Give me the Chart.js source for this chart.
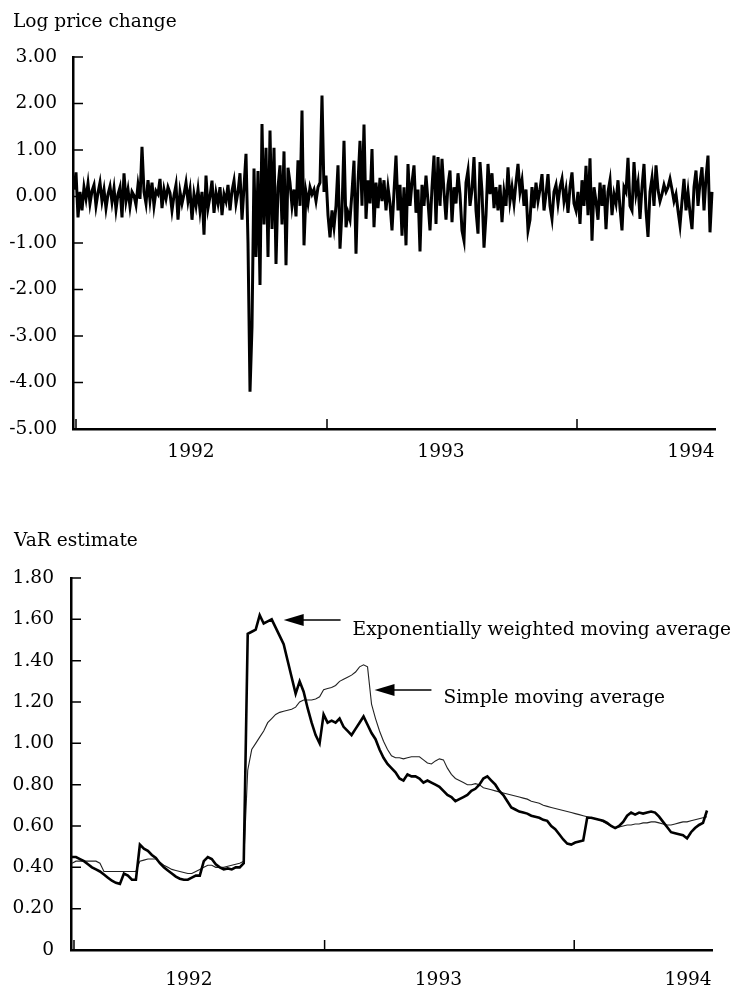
<!DOCTYPE html>
<html>
<head>
<meta charset="utf-8">
<script src="https://cdn.jsdelivr.net/npm/chart.js@4.4.1/dist/chart.umd.min.js"></script>
<style>
  body { margin: 0; background: #fff; }
  #wrap { position: relative; width: 740px; height: 994px; }
  canvas { position: absolute; left: 0; }
</style>
</head>
<body>
<div id="wrap">
  <canvas id="priceChart" width="740" height="470" style="top:0"></canvas>
  <canvas id="varChart" width="740" height="484" style="top:510px"></canvas>
</div>
<script>
// trading days on the x axis (day 0 = left end of the axis)
var yearLabels = ["1992", "1993", "1994"];
var yearLabelDays = [118, 368, 618];
var yearTickDays = [3, 254, 504];

// daily log price change, one value every 2nd trading day
var priceChange = [
  0.15, 0.52, -0.45, 0.10, -0.30, 0.20, -0.05, 0.28, -0.15, 0.12, 0.25, -0.20, 0.08, 0.30, -0.10, 0.15, -0.25, 0.05, 0.22, -0.12,
  0.18, -0.28, 0.05, 0.20, -0.45, 0.50, -0.10, 0.15, -0.22, 0.10, 0.02, -0.18, 0.25, -0.05, 1.07, 0.10, -0.15, 0.35, -0.08, 0.30,
  -0.20, 0.12, 0.05, 0.38, -0.25, 0.15, -0.05, 0.20, 0.08, -0.30, 0.02, 0.25, -0.50, 0.10, -0.15, 0.05, 0.30, -0.10, 0.15, -0.50,
  0.05, -0.20, 0.15, -0.30, 0.10, -0.82, 0.45, -0.25, 0.00, 0.34, -0.35, 0.08, -0.15, 0.20, -0.40, 0.05, -0.10, 0.25, -0.30, 0.12,
  0.34, -0.15, 0.10, 0.50, -0.50, 0.20, 0.92, -1.00, -4.20, -2.80, 0.60, -1.30, 0.55, -1.90, 1.56, -0.60, 1.05, -1.30, 1.42, -0.70,
  1.05, -1.45, 0.20, 0.67, -0.60, 0.97, -1.48, 0.62, 0.30, -0.20, 0.15, -0.43, 0.78, -0.20, 1.85, -1.05, 0.10, -0.15, 0.20, 0.05,
  0.15, -0.10, 0.20, 0.30, 2.17, 0.10, 0.45, -0.40, -0.88, -0.30, -0.66, -0.20, 0.67, -1.12, -0.30, 1.20, -0.66, -0.35, -0.50, 0.10,
  0.77, -1.23, 0.30, 1.20, -0.20, 1.55, -0.48, 0.35, -0.15, 1.02, -0.66, 0.30, -0.25, 0.40, -0.10, 0.35, -0.30, 0.20, -0.15, -0.73,
  0.10, 0.88, -0.30, 0.25, -0.84, 0.20, -1.05, 0.70, -0.20, 0.30, 0.67, -0.35, 0.15, -1.18, 0.25, -0.20, 0.45, -0.10, -0.73, 0.20,
  0.88, -0.59, 0.85, -0.20, 0.81, 0.10, -0.50, 0.25, 0.56, -0.55, 0.20, -0.15, 0.50, 0.05, -0.73, -0.95, 0.30, 0.56, -0.20, 0.15,
  0.85, -0.30, -0.80, 0.74, 0.10, -1.10, -0.40, 0.70, 0.05, 0.50, -0.25, 0.20, -0.30, 0.25, -0.55, 0.10, -0.20, 0.63, -0.10, 0.20,
  -0.15, 0.30, 0.70, 0.10, 0.35, -0.20, 0.15, -0.73, -0.50, 0.20, -0.25, 0.30, -0.10, 0.15, 0.48, -0.30, 0.05, 0.48, -0.20, -0.48,
  0.10, 0.25, -0.15, 0.20, 0.38, -0.10, 0.15, -0.35, 0.20, 0.52, -0.15, -0.30, 0.10, -0.59, 0.35, -0.20, 0.66, -0.40, 0.82, -0.95,
  0.20, -0.10, -0.50, 0.30, -0.20, 0.25, -0.70, 0.10, 0.35, -0.40, 0.05, -0.15, 0.35, -0.25, -0.73, 0.20, 0.10, 0.83, -0.20, -0.30,
  0.74, 0.05, 0.30, -0.48, 0.20, 0.70, -0.30, -0.87, 0.10, 0.40, -0.20, 0.67, 0.15, -0.10, 0.05, 0.25, 0.10, 0.20, 0.38, 0.15,
  -0.10, 0.05, -0.30, -0.62, -0.10, 0.38, -0.30, 0.10, -0.35, -0.70, 0.20, 0.56, -0.20, 0.30, 0.63, -0.30, 0.40, 0.88, -0.77, 0.10
];

// VaR estimates, one value every 4th trading day
var ewma = [
  0.45, 0.45, 0.44, 0.43, 0.415, 0.40, 0.39, 0.38, 0.365, 0.35,
  0.335, 0.325, 0.32, 0.37, 0.36, 0.34, 0.34, 0.51, 0.49, 0.48,
  0.46, 0.445, 0.42, 0.40, 0.385, 0.37, 0.355, 0.345, 0.34, 0.34,
  0.35, 0.36, 0.36, 0.43, 0.45, 0.44, 0.415, 0.40, 0.39, 0.395,
  0.39, 0.40, 0.40, 0.42, 1.53, 1.54, 1.55, 1.62, 1.58, 1.59,
  1.60, 1.56, 1.52, 1.48, 1.40, 1.32, 1.24, 1.30, 1.25, 1.17,
  1.10, 1.04, 1.00, 1.14, 1.10, 1.11, 1.10, 1.12, 1.08, 1.06,
  1.04, 1.07, 1.10, 1.13, 1.09, 1.05, 1.02, 0.97, 0.93, 0.90,
  0.88, 0.86, 0.83, 0.82, 0.85, 0.84, 0.84, 0.83, 0.81, 0.82,
  0.81, 0.80, 0.79, 0.77, 0.75, 0.74, 0.72, 0.73, 0.74, 0.75,
  0.77, 0.78, 0.80, 0.83, 0.84, 0.82, 0.80, 0.77, 0.75, 0.72,
  0.69, 0.68, 0.67, 0.665, 0.66, 0.65, 0.645, 0.64, 0.63, 0.625,
  0.60, 0.585, 0.56, 0.535, 0.515, 0.51, 0.52, 0.525, 0.53, 0.64,
  0.64, 0.635, 0.63, 0.625, 0.615, 0.60, 0.59, 0.60, 0.62, 0.65,
  0.665, 0.655, 0.665, 0.66, 0.665, 0.67, 0.665, 0.645, 0.62, 0.595,
  0.57, 0.565, 0.56, 0.555, 0.54, 0.57, 0.59, 0.605, 0.615, 0.675
];
var sma = [
  0.42, 0.43, 0.43, 0.43, 0.43, 0.43, 0.43, 0.42, 0.38, 0.38,
  0.38, 0.38, 0.38, 0.38, 0.38, 0.38, 0.38, 0.43, 0.435, 0.44,
  0.44, 0.44, 0.425, 0.41, 0.40, 0.39, 0.385, 0.38, 0.375, 0.37,
  0.37, 0.38, 0.39, 0.40, 0.41, 0.41, 0.40, 0.40, 0.40, 0.405,
  0.41, 0.415, 0.42, 0.43, 0.87, 0.97, 1.00, 1.03, 1.06, 1.10,
  1.12, 1.14, 1.15, 1.155, 1.16, 1.165, 1.175, 1.20, 1.21, 1.21,
  1.21, 1.215, 1.225, 1.26, 1.265, 1.27, 1.28, 1.30, 1.31, 1.32,
  1.33, 1.345, 1.37, 1.38, 1.37, 1.19, 1.12, 1.06, 1.01, 0.97,
  0.94, 0.93, 0.93, 0.925, 0.93, 0.935, 0.935, 0.935, 0.92, 0.905,
  0.90, 0.915, 0.925, 0.92, 0.88, 0.85, 0.83, 0.82, 0.81, 0.80,
  0.80, 0.805, 0.80, 0.785, 0.78, 0.775, 0.77, 0.765, 0.76, 0.755,
  0.75, 0.745, 0.74, 0.735, 0.73, 0.72, 0.715, 0.71, 0.70, 0.695,
  0.69, 0.685, 0.68, 0.675, 0.67, 0.665, 0.66, 0.655, 0.65, 0.645,
  0.64, 0.635, 0.63, 0.62, 0.61, 0.60, 0.59, 0.595, 0.60, 0.605,
  0.605, 0.61, 0.61, 0.615, 0.615, 0.62, 0.62, 0.615, 0.61, 0.605,
  0.605, 0.61, 0.615, 0.62, 0.62, 0.625, 0.63, 0.635, 0.64, 0.645
];

var varNotes = [
  { text: "Exponentially weighted moving average", tip: [213, 1.597], tail: 270, textAt: [282, 1.524] },
  { text: "Simple moving average", tip: [304, 1.258], tail: 361, textAt: [373, 1.195] }
];

var priceDays = priceChange.map(function (v, i) { return 1 + 2 * i; });
var varDays = ewma.map(function (v, i) { return 1 + 4 * i; });

function points(days, vals) {
  return vals.map(function (v, i) { return { x: days[i], y: v }; });
}

Chart.defaults.font.family = '"DejaVu Serif", serif';
Chart.defaults.font.size = 18.6;
Chart.defaults.color = "#000";

// tick marks point into the plot, like the printed figure
var innerTicks = {
  id: "innerTicks",
  afterLayout: function (chart) {
    // let the long y labels ("-5.00") run past the scale box without being clipped
    chart.scales.y.left = 0;
  },
  afterDraw: function (chart) {
    var ctx = chart.ctx, area = chart.chartArea, sx = chart.scales.x, sy = chart.scales.y;
    ctx.save();
    ctx.strokeStyle = "#000";
    ctx.lineWidth = 1.5;
    ctx.beginPath();
    sy.ticks.forEach(function (t) {
      var py = sy.getPixelForValue(t.value);
      ctx.moveTo(area.left, py);
      ctx.lineTo(area.left + 10, py);
    });
    yearTickDays.forEach(function (d) {
      var px = sx.getPixelForValue(d);
      ctx.moveTo(px, area.bottom);
      ctx.lineTo(px, area.bottom - 10);
    });
    ctx.stroke();
    ctx.restore();
  }
};

var callouts = {
  id: "callouts",
  afterDatasetsDraw: function (chart) {
    var ctx = chart.ctx, sx = chart.scales.x, sy = chart.scales.y;
    ctx.save();
    ctx.fillStyle = "#000";
    ctx.strokeStyle = "#000";
    ctx.font = '18.6px "DejaVu Serif"';
    ctx.textBaseline = "alphabetic";
    varNotes.forEach(function (n) {
      var tx = sx.getPixelForValue(n.tip[0]);
      var ty = sy.getPixelForValue(n.tip[1]);
      var ex = sx.getPixelForValue(n.tail);
      ctx.lineWidth = 1.6;
      ctx.beginPath();
      ctx.moveTo(tx + 15, ty);
      ctx.lineTo(ex, ty);
      ctx.stroke();
      ctx.beginPath();
      ctx.moveTo(tx, ty);
      ctx.lineTo(tx + 20, ty - 6);
      ctx.lineTo(tx + 20, ty + 6);
      ctx.closePath();
      ctx.fill();
      ctx.fillText(n.text, sx.getPixelForValue(n.textAt[0]), sy.getPixelForValue(n.textAt[1]));
    });
    ctx.restore();
  }
};

function xAxis(labelPad, height) {
  return {
    type: "linear",
    min: 0,
    max: 642,
    afterBuildTicks: function (s) {
      s.ticks = yearLabelDays.map(function (d) { return { value: d }; });
    },
    ticks: {
      padding: labelPad,
      autoSkip: false,
      maxRotation: 0,
      callback: function (v, i) { return yearLabels[i]; }
    },
    grid: { display: false, drawTicks: false },
    border: { display: true, color: "#000", width: 2.5 },
    afterFit: function (s) { s.height = height; }
  };
}

function titleOpts(text, top, bottom) {
  return {
    display: true,
    text: text,
    align: "start",
    color: "#000",
    font: { size: 18.6, weight: "normal" },
    padding: { top: top, bottom: bottom }
  };
}

var priceChart = new Chart(document.getElementById("priceChart"), {
  type: "line",
  data: {
    datasets: [{
      data: points(priceDays, priceChange),
      borderColor: "#000",
      borderWidth: 3,
      pointRadius: 0,
      tension: 0,
      fill: false
    }]
  },
  options: {
    responsive: false,
    animation: false,
    events: [],
    layout: { padding: { left: 13, right: 25, top: 0, bottom: 0 } },
    plugins: {
      legend: { display: false },
      tooltip: { enabled: false },
      title: titleOpts("Log price change", 11, 23.7)
    },
    scales: {
      x: xAxis(12, 41),
      y: {
        min: -5,
        max: 3,
        ticks: { stepSize: 1, padding: 16, callback: function (v) { return v.toFixed(2); } },
        grid: { display: false, drawTicks: false },
        border: { display: true, color: "#000", width: 2.5 },
        afterFit: function (s) { s.width = 60; }
      }
    }
  },
  plugins: [innerTicks]
});

var varChart = new Chart(document.getElementById("varChart"), {
  type: "line",
  data: {
    datasets: [{
      label: "Exponentially weighted moving average",
      data: points(varDays, ewma),
      borderColor: "#000",
      borderWidth: 2.6,
      pointRadius: 0,
      tension: 0,
      fill: false
    }, {
      label: "Simple moving average",
      data: points(varDays, sma),
      borderColor: "#222",
      borderWidth: 1.1,
      pointRadius: 0,
      tension: 0,
      fill: false
    }]
  },
  options: {
    responsive: false,
    animation: false,
    events: [],
    layout: { padding: { left: 14, right: 28, top: 0, bottom: 0 } },
    plugins: {
      legend: { display: false },
      tooltip: { enabled: false },
      title: titleOpts("VaR estimate", 20.5, 25.2)
    },
    scales: {
      x: xAxis(19, 44),
      y: {
        min: 0,
        max: 1.8,
        ticks: {
          stepSize: 0.2,
          padding: 17,
          callback: function (v) { return v === 0 ? "0" : v.toFixed(2); }
        },
        grid: { display: false, drawTicks: false },
        border: { display: true, color: "#000", width: 2.5 },
        afterFit: function (s) { s.width = 57; }
      }
    }
  },
  plugins: [innerTicks, callouts]
});
</script>
</body>
</html>
